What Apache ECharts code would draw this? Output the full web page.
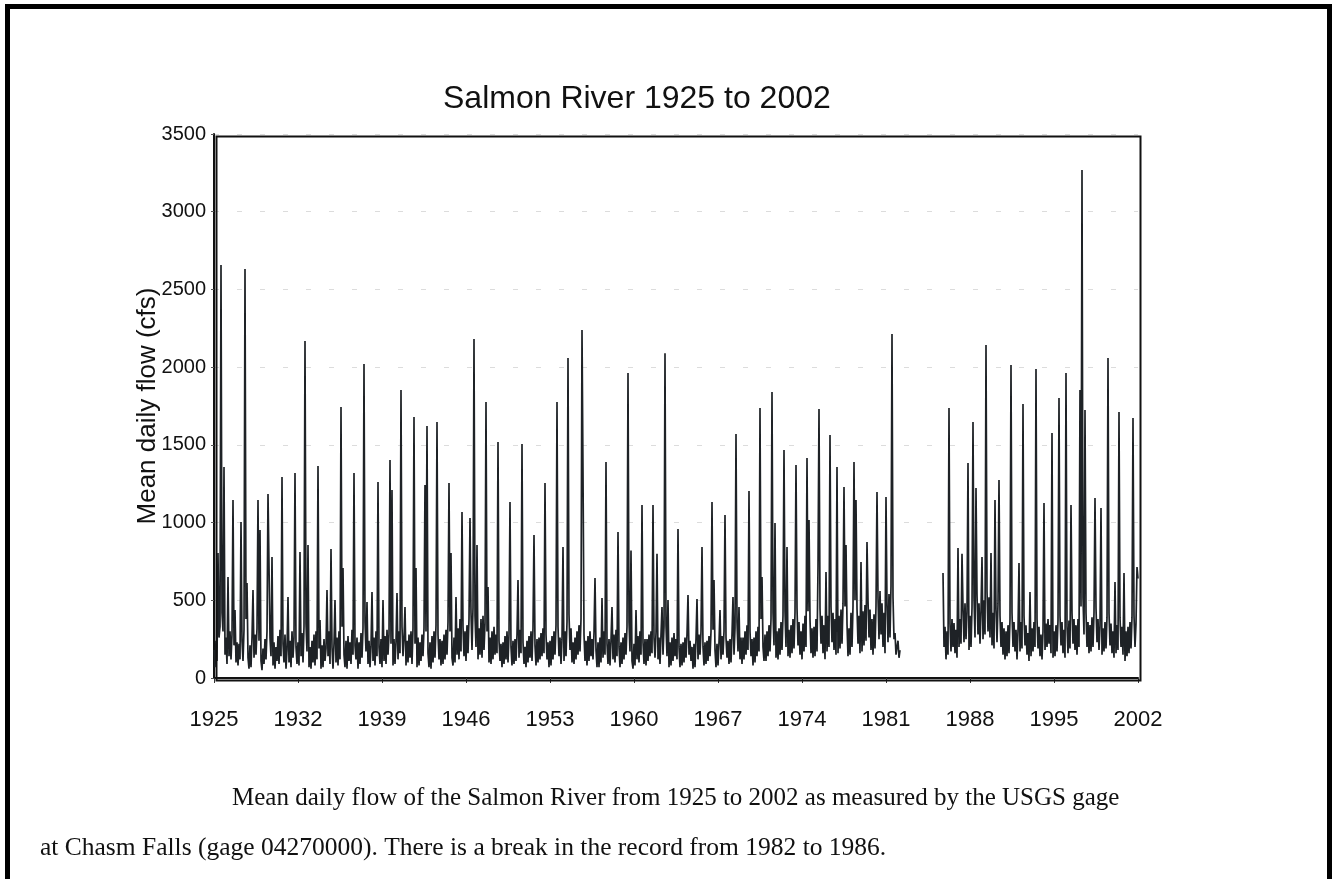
<!DOCTYPE html>
<html>
<head>
<meta charset="utf-8">
<title>Salmon River 1925 to 2002</title>
<script src="https://cdn.jsdelivr.net/npm/echarts/dist/echarts.min.js"></script>
<style>
  html, body { margin: 0; padding: 0; background: #fff; }
  #chart { width: 1333px; height: 879px; }
</style>
</head>
<body>
<div id="chart"></div>
<script>
// mean daily flow (cfs), one row per year, 12 readings per row
const flow1920s = [
  [180, 70, 240, 110, 804, 260, 330, 2657, 420, 300, 1358, 150],   // 1925
  [260, 90, 650, 140, 300, 120, 280, 1145, 210, 437, 100, 230],
  [80, 220, 120, 1004, 240, 110, 310, 2632, 380, 611, 130, 60],
  [210, 70, 260, 566, 130, 280, 150, 320, 1145, 240, 952, 110],
  [50, 190, 90, 250, 120, 300, 1184, 1184, 260, 140, 778, 80]
];
const flow1930s = [
  [230, 60, 200, 110, 270, 90, 310, 140, 1293, 220, 100, 280],
  [60, 180, 521, 100, 240, 70, 300, 130, 260, 1319, 200, 90],
  [230, 80, 811, 140, 290, 100, 330, 2168, 350, 170, 856, 70],
  [200, 60, 240, 100, 280, 80, 300, 120, 1364, 190, 373, 60],
  [210, 70, 250, 110, 190, 566, 140, 300, 90, 830, 200, 60],
  [220, 502, 100, 260, 80, 300, 120, 1744, 330, 708, 150, 70],
  [240, 60, 270, 110, 230, 90, 310, 150, 1319, 210, 120, 260],
  [60, 230, 90, 290, 130, 320, 2020, 360, 170, 489, 90, 240],
  [70, 200, 553, 110, 260, 80, 300, 140, 1261, 200, 90, 250],
  [70, 502, 110, 270, 90, 310, 150, 280, 1403, 220, 1210, 80]
];
const flow1940s = [
  [250, 90, 230, 547, 120, 300, 160, 1853, 330, 140, 260, 457],
  [80, 240, 100, 280, 130, 300, 90, 320, 1679, 220, 708, 70],
  [260, 80, 230, 110, 280, 140, 320, 1242, 300, 1621, 160, 70],
  [230, 60, 270, 100, 300, 130, 340, 1647, 280, 120, 250, 80],
  [240, 90, 280, 120, 310, 150, 360, 1255, 300, 804, 130, 80],
  [260, 100, 521, 150, 320, 120, 380, 170, 1068, 330, 140, 300],
  [110, 340, 160, 380, 1029, 420, 180, 450, 2181, 400, 200, 856],
  [120, 320, 150, 380, 130, 400, 180, 350, 1776, 300, 586, 100],
  [260, 90, 300, 120, 330, 150, 280, 160, 1518, 240, 110, 220],
  [70, 230, 90, 270, 120, 300, 100, 280, 1132, 200, 80, 240]
];
const flow1950s = [
  [90, 250, 110, 280, 630, 130, 310, 160, 1505, 230, 90, 200],
  [70, 240, 100, 270, 130, 300, 110, 320, 920, 210, 80, 250],
  [100, 260, 120, 290, 140, 320, 160, 1255, 280, 120, 230, 70],
  [240, 80, 270, 120, 300, 150, 340, 1776, 330, 140, 260, 90],
  [250, 843, 110, 300, 140, 360, 2059, 410, 180, 320, 100, 230],
  [90, 260, 120, 300, 150, 340, 170, 380, 2239, 1320, 280, 110],
  [240, 80, 270, 110, 300, 140, 250, 120, 290, 643, 180, 70],
  [230, 70, 260, 100, 515, 130, 300, 150, 1390, 220, 90, 250],
  [80, 240, 457, 120, 280, 100, 310, 140, 940, 200, 70, 230],
  [90, 260, 120, 290, 150, 330, 1962, 360, 170, 820, 110, 60]
];
const flow1960s = [
  [220, 80, 437, 120, 270, 100, 300, 150, 1113, 230, 90, 250],
  [80, 250, 110, 280, 140, 300, 160, 1113, 260, 130, 290, 800],
  [120, 260, 90, 280, 457, 150, 330, 2090, 340, 140, 502, 70],
  [230, 80, 260, 110, 290, 140, 250, 120, 958, 200, 70, 220],
  [80, 230, 100, 260, 130, 280, 534, 150, 240, 110, 200, 60],
  [220, 70, 250, 508, 120, 280, 150, 300, 843, 200, 80, 230],
  [90, 240, 110, 270, 140, 300, 1132, 310, 630, 180, 70, 220],
  [80, 230, 437, 120, 270, 150, 300, 1049, 260, 130, 240, 90],
  [250, 100, 280, 521, 150, 320, 1570, 360, 170, 457, 120, 260],
  [90, 260, 120, 300, 150, 340, 180, 1203, 300, 140, 250, 80]
];
const flow1970s = [
  [260, 100, 300, 140, 330, 170, 1737, 380, 650, 200, 110, 280],
  [110, 300, 140, 340, 170, 380, 1840, 420, 210, 997, 130, 300],
  [120, 320, 150, 360, 180, 400, 1467, 430, 200, 843, 140, 310],
  [130, 340, 160, 380, 190, 420, 1370, 450, 210, 360, 150, 300],
  [120, 350, 170, 400, 200, 1415, 430, 1016, 380, 160, 320, 130],
  [330, 140, 380, 170, 714, 1731, 450, 220, 400, 160, 340, 120],
  [682, 170, 400, 200, 1564, 460, 230, 420, 180, 380, 150, 1358],
  [160, 400, 190, 440, 220, 480, 1229, 460, 856, 350, 140, 320],
  [150, 420, 200, 460, 1390, 500, 1145, 450, 220, 400, 160, 746],
  [170, 430, 210, 470, 240, 875, 500, 260, 440, 180, 380, 150]
];
// record breaks from 1982 to 1986
const flow1980s = [
  [410, 190, 460, 1197, 520, 250, 560, 280, 480, 200, 420, 160],
  [1165, 470, 230, 540, 260, 590, 2213, 520, 250, 290, 150, 200],
  [240, 130, 180, null, null, null, null, null, null, null, null, null],
  [null, null, null, null, null, null, null, null, null, null, null, null],
  [null, null, null, null, null, null, null, null, null, null, null, null],
  [null, null, null, null, null, null, null, null, null, 675, 200, 330],
  [120, 300, 150, 1737, 350, 170, 380, 200, 354, 160, 310, 130],
  [836, 200, 380, 220, 800, 450, 230, 480, 250, 420, 1383, 180],
  [400, 200, 450, 1647, 520, 260, 1222, 540, 280, 480, 220, 430],
  [778, 250, 500, 280, 2142, 560, 300, 520, 260, 804, 210, 420]
];
const flow1990s = [
  [190, 1145, 440, 230, 480, 1274, 400, 200, 360, 150, 320, 120],
  [300, 140, 340, 160, 380, 2014, 420, 200, 360, 170, 310, 120],
  [300, 740, 170, 360, 190, 1763, 400, 210, 340, 150, 290, 110],
  [553, 140, 320, 170, 360, 200, 1988, 380, 190, 330, 140, 280],
  [120, 300, 1126, 180, 350, 200, 380, 220, 340, 160, 1576, 130],
  [300, 140, 340, 170, 370, 1801, 400, 210, 360, 160, 310, 130],
  [1962, 330, 160, 370, 190, 1113, 420, 220, 380, 180, 340, 150],
  [380, 200, 1853, 460, 3268, 520, 280, 1725, 420, 200, 360, 160],
  [340, 170, 390, 200, 420, 1158, 450, 230, 380, 180, 330, 1094],
  [150, 320, 170, 360, 190, 390, 2059, 420, 210, 350, 160, 300]
];
const flow2000s = [
  [130, 618, 160, 340, 180, 1711, 390, 200, 330, 150, 675, 110],
  [300, 140, 330, 160, 360, 190, 390, 1673, 400, 200, 350, 714],
  [640]
];

const firstYear = 1925;
const yearTicks = [1925, 1932, 1939, 1946, 1953, 1960, 1967, 1974, 1981, 1988, 1995, 2002];
const flowTicks = [0, 500, 1000, 1500, 2000, 2500, 3000, 3500];

const titleText = 'Salmon River 1925 to 2002';
const yName = 'Mean daily flow (cfs)';
const caption1 = 'Mean daily flow of the Salmon River from 1925 to 2002 as measured by the USGS gage';
const caption2 = 'at Chasm Falls (gage 04270000). There is a break in the record from 1982 to 1986.';

// flatten rows into [year, cfs] pairs
const points = [];
let yr = firstYear;
[flow1920s, flow1930s, flow1940s, flow1950s, flow1960s, flow1970s, flow1980s, flow1990s, flow2000s]
  .forEach(rows => rows.forEach(row => {
    row.forEach((v, m) => points.push([yr + m / 12, v === null ? '-' : v]));
    yr++;
  }));

const sans = 'Liberation Sans, Arial, sans-serif';
const chart = echarts.init(document.getElementById('chart'));
const option = {
  animation: false,
  backgroundColor: '#fff',
  grid: { left: 214, right: 195, top: 134, bottom: 201 },
  xAxis: {
    type: 'value',
    min: yearTicks[0],
    max: yearTicks[yearTicks.length - 1],
    interval: 7,
    axisLine: { show: true, lineStyle: { color: '#111', width: 2 } },
    axisTick: { show: true, inside: false, length: 5, lineStyle: { color: '#333' } },
    axisLabel: {
      margin: 31,
      fontFamily: sans,
      fontSize: 22,
      color: '#111',
      formatter: v => String(v)
    },
    splitLine: { show: false }
  },
  yAxis: {
    type: 'value',
    min: flowTicks[0],
    max: flowTicks[flowTicks.length - 1],
    interval: 500,
    name: yName,
    nameLocation: 'middle',
    nameGap: 53,
    nameMoveOverlap: false,
    nameTextStyle: { fontFamily: sans, fontSize: 26, color: '#111' },
    axisLine: { show: true, lineStyle: { color: '#111', width: 2 } },
    axisTick: { show: true, length: 3, lineStyle: { color: '#555' } },
    axisLabel: {
      margin: 8,
      fontFamily: sans,
      fontSize: 20,
      color: '#111',
      formatter: v => String(v)
    },
    splitLine: { show: true, lineStyle: { color: '#dcdcdc', width: 1, type: [5, 18] } }
  },
  series: [{
    type: 'line',
    data: points,
    showSymbol: false,
    connectNulls: false,
    lineStyle: { color: '#1e2226', width: 1.7 },
    z: 3
  }],
  graphic: [
    { type: 'text', left: 443, top: 83, style: { text: titleText, font: '32px "Liberation Sans", Arial, sans-serif', fill: '#111' } },
    // plot frame (top and right)
    { type: 'rect', left: 214, top: 134, shape: { width: 924, height: 544 }, style: { fill: 'none', stroke: '#111', lineWidth: 2 }, z: 10, silent: true },
    // page border
    { type: 'rect', left: 5, top: 4, shape: { width: 1322, height: 900 }, style: { fill: 'none', stroke: '#000', lineWidth: 5 }, z: 10, silent: true },
    { type: 'text', left: 232, top: 786, style: { text: caption1, font: '25px "Liberation Serif", "Times New Roman", serif', fill: '#111' } },
    { type: 'text', left: 40, top: 835, style: { text: caption2, font: '25.5px "Liberation Serif", "Times New Roman", serif', fill: '#111' } }
  ]
};
chart.setOption(option);
</script>
</body>
</html>
